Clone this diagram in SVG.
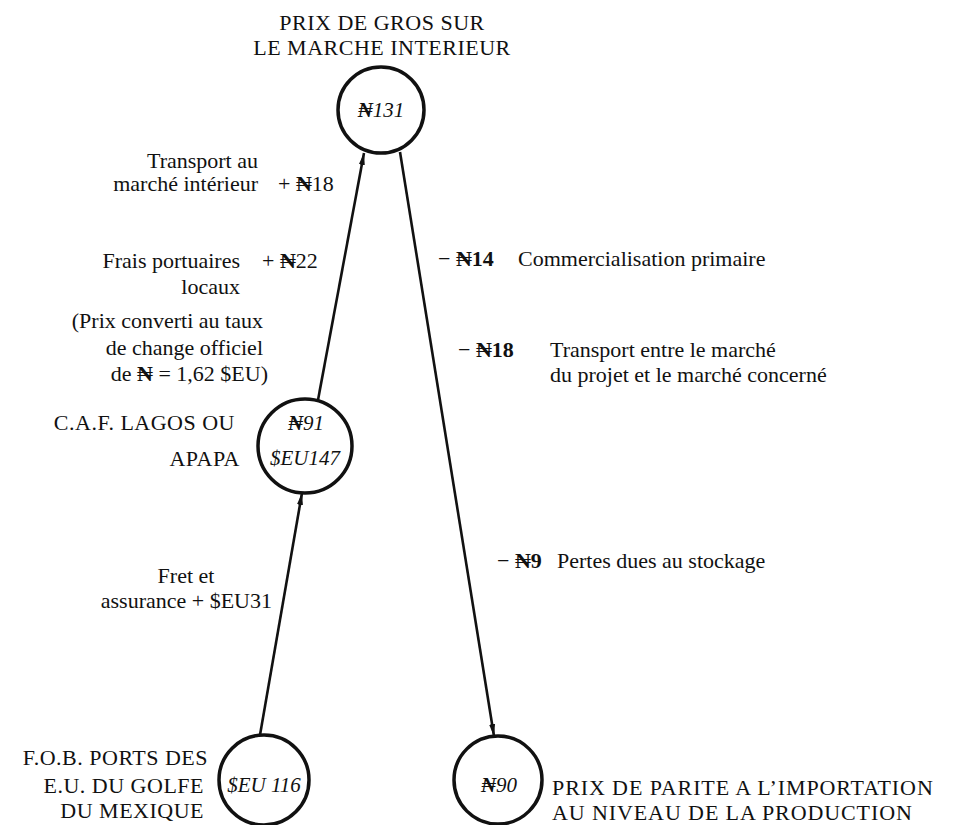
<svg xmlns="http://www.w3.org/2000/svg" width="961" height="825" viewBox="0 0 961 825">
<style>
text{font-family:"Liberation Serif","DejaVu Serif",serif;font-size:22px;fill:#111}
.cap{font-size:22px;letter-spacing:0.5px}
.wide{letter-spacing:0.9px}
.it{font-style:italic;font-size:21px}
.b{font-weight:bold}
circle{fill:#fff;stroke:#111;stroke-width:3.5}
.con line{stroke:#111;stroke-width:2.6}
</style>
<defs>
<marker id="ah" viewBox="0 0 12 10" refX="12" refY="5" markerWidth="12" markerHeight="10" markerUnits="userSpaceOnUse" orient="auto">
<path d="M0,2 L12,5 L0,8 Z" fill="#111"/>
</marker>
</defs>
<rect width="961" height="825" fill="#fff"/>
<g class="con" id="connectors">
<line x1="260" y1="735" x2="302" y2="493" marker-end="url(#ah)"/>
<line x1="318" y1="400" x2="364" y2="153" marker-end="url(#ah)"/>
<line x1="400" y1="152" x2="494" y2="736" marker-end="url(#ah)"/>
</g>
<g id="n-top">
<circle cx="381" cy="110" r="43"/>
<text class="it" x="381" y="117" text-anchor="middle"><tspan class="b">₦</tspan>131</text>
<text class="cap" x="382" y="30" text-anchor="middle">PRIX DE GROS SUR</text>
<text class="cap" x="382" y="55" text-anchor="middle">LE MARCHE INTERIEUR</text>
</g>
<g id="n-caf">
<circle cx="305" cy="446" r="47"/>
<text class="it" x="306" y="430" text-anchor="middle"><tspan class="b">₦</tspan>91</text>
<text class="it" x="305" y="465" text-anchor="middle">$EU147</text>
<text class="cap" x="235" y="430" text-anchor="end">C.A.F. LAGOS OU</text>
<text class="cap" x="240" y="466" text-anchor="end">APAPA</text>
</g>
<g id="n-fob">
<circle cx="264" cy="780" r="45"/>
<text class="it" x="264" y="792" text-anchor="middle">$EU 116</text>
<text class="cap" x="208" y="765" text-anchor="end">F.O.B. PORTS DES</text>
<text class="cap" x="204" y="793" text-anchor="end">E.U. DU GOLFE</text>
<text class="cap" x="204" y="818" text-anchor="end">DU MEXIQUE</text>
</g>
<g id="n-parite">
<circle cx="498" cy="780" r="44"/>
<text class="it" x="499" y="792" text-anchor="middle"><tspan class="b">₦</tspan>90</text>
<text class="cap wide" x="552" y="795">PRIX DE PARITE A L’IMPORTATION</text>
<text class="cap wide" x="552" y="820">AU NIVEAU DE LA PRODUCTION</text>
</g>
<g id="labels-left">
<text x="258" y="168" text-anchor="end">Transport au</text>
<text x="258" y="191" text-anchor="end">marché intérieur</text>
<text x="278" y="191">+ <tspan class="b">₦</tspan>18</text>
<text x="240" y="268" text-anchor="end">Frais portuaires</text>
<text x="262" y="268">+ <tspan class="b">₦</tspan>22</text>
<text x="240" y="294" text-anchor="end">locaux</text>
<text x="263" y="328" text-anchor="end">(Prix converti au taux</text>
<text x="263" y="355" text-anchor="end">de change officiel</text>
<text x="268" y="381" text-anchor="end">de <tspan class="b">₦</tspan> = 1,62 $EU)</text>
<text x="186" y="583" text-anchor="middle">Fret et</text>
<text x="272" y="608" text-anchor="end">assurance + $EU31</text>
</g>
<g id="labels-right">
<text x="438" y="266">− <tspan class="b">₦14</tspan></text>
<text x="518" y="266">Commercialisation primaire</text>
<text x="458" y="357">− <tspan class="b">₦18</tspan></text>
<text x="550" y="357">Transport entre le marché</text>
<text x="550" y="382">du projet et le marché concerné</text>
<text x="497" y="568">− <tspan class="b">₦9</tspan></text>
<text x="557" y="568">Pertes dues au stockage</text>
</g>
</svg>
